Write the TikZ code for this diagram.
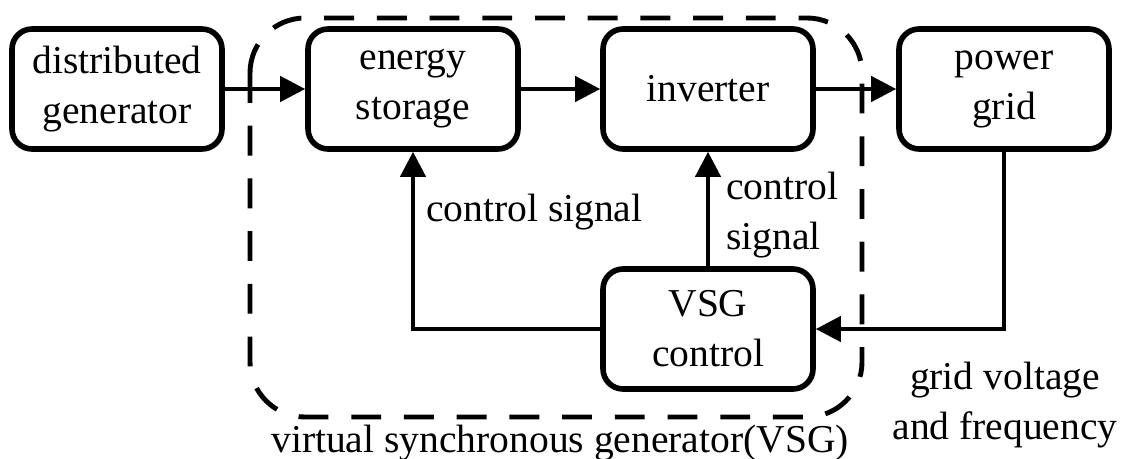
\documentclass[tikz,border=0pt]{standalone}
\usepackage{fontspec}
\setmainfont{Liberation Serif}
\usetikzlibrary{arrows.meta}
\begin{document}
\begin{tikzpicture}[x=0.02cm, y=-0.02cm,
	block/.style={draw, line width=3.2pt, rounded corners=0.4cm, minimum width=4.2cm, minimum height=2.4cm, align=center, font=\fontsize{22.5}{28.5}\selectfont},
	note/.style={align=center, font=\fontsize{22.5}{28.5}\selectfont},
	link/.style={line width=2.4pt, -{Triangle[length=0.5cm, width=0.5cm]}}]
	
	\useasboundingbox (0,0) rectangle (1125,459);
	
	% VSG frame
	\draw[line width=2.8pt, dash pattern=on 17pt off 13pt, rounded corners=1.1cm] (250,18) rectangle (862,417);
	
	% Blocks
	\node[block] (dg) at (117,89) {distributed\\generator};
	\node[block] (es) at (413,89) {energy\\storage};
	\node[block] (inv) at (708,89) {inverter};
	\node[block] (pg) at (1004,89) {power\\grid};
	\node[block] (vsg) at (708,329) {VSG\\control};
	
	% Power flow
	\draw[link] (dg) -- (es);
	\draw[link] (es) -- (inv);
	\draw[link] (inv) -- (pg);
	
	% Feedback
	\draw[link] (pg.south) |- (vsg.east);
	\draw[link] (vsg.west) -| (es.south);
	\draw[link] (vsg.north) -- (inv.south);
	
	% Labels
	\node[note, anchor=west] (sigleft) at (420,212) {control signal};
	\node[note, align=left, anchor=west] (sigright) at (720,215) {control\\signal};
	\node[note] (meas) at (1005,405) {grid voltage\\and frequency};
	\node[note] (frame) at (560,443) {virtual synchronous generator(VSG)};
	
\end{tikzpicture}
\end{document}
